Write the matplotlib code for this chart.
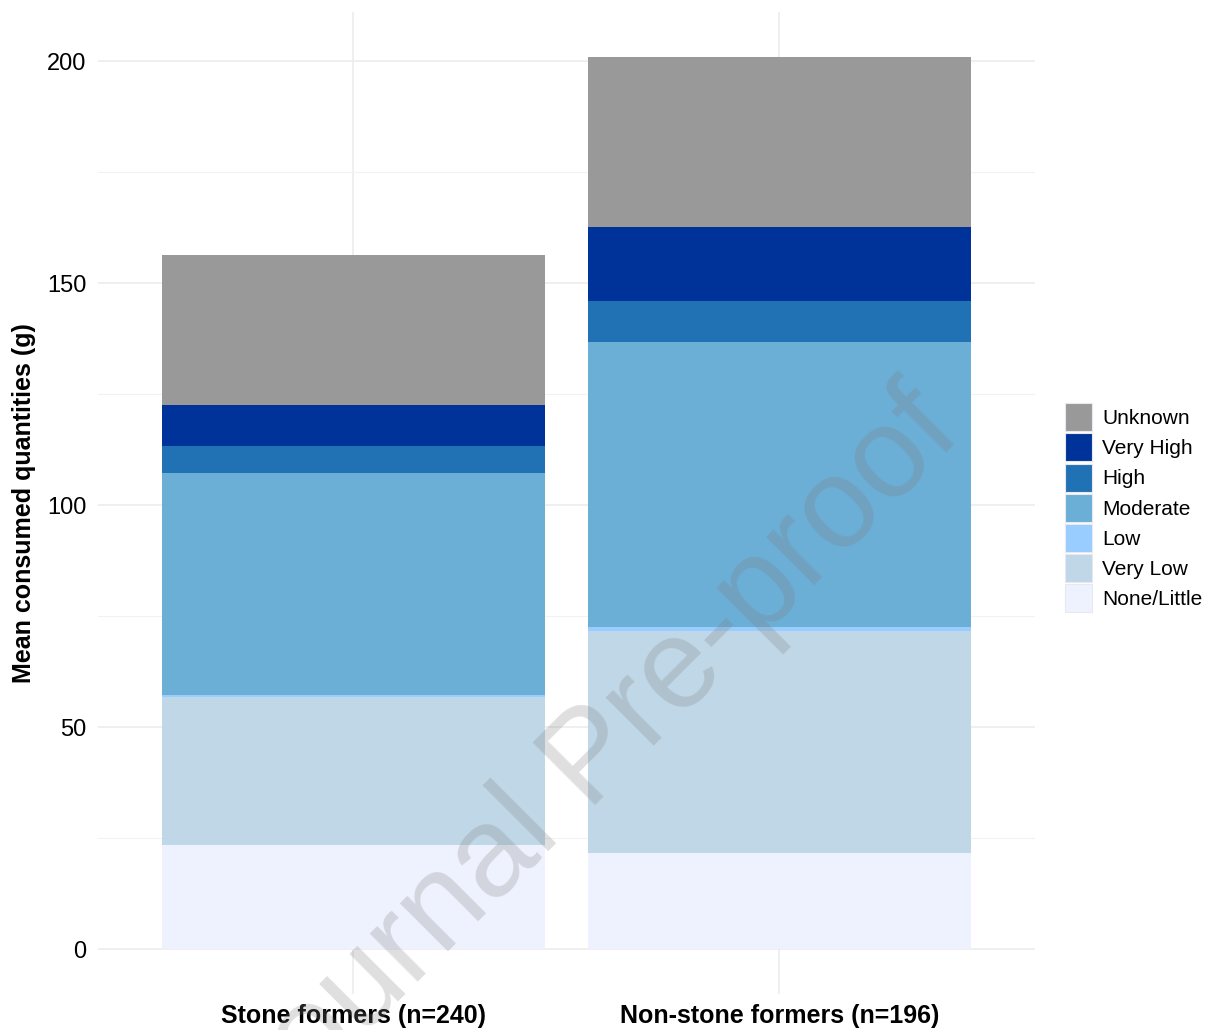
import matplotlib
matplotlib.use("Agg")
import matplotlib.pyplot as plt
from matplotlib.patches import Patch
import numpy as np

plt.rcParams['font.family'] = ['Liberation Sans', 'DejaVu Sans']

groups = ["Stone formers (n=240)", "Non-stone formers (n=196)"]
levels = ["None/Little", "Very Low", "Low", "Moderate", "High", "Very High", "Unknown"]
colors = ["#EEF2FE", "#BFD7E6", "#99CCFF", "#6BAED6", "#2171B5", "#003399", "#999999"]

none_little = [23.5, 21.8]
very_low = [33.4, 49.9]
low = [0.3, 0.9]
moderate = [50.2, 64.3]
high = [5.9, 9.1]
very_high = [9.3, 16.8]
unknown = [33.9, 38.2]

series = [none_little, very_low, low, moderate, high, very_high, unknown]

fig = plt.figure(figsize=(12.08, 10.30), dpi=100)
ax = fig.add_axes([0.0808, 0.035, 0.776, 0.953])

x = np.arange(1, len(groups) + 1)
bottom = np.zeros(len(groups))
for vals, col in zip(series, colors):
    ax.bar(x, vals, width=0.9, bottom=bottom, color=col, edgecolor='none', zorder=2)
    bottom += np.array(vals)

ax.set_xlim(0.4, 2.6)
ymax = bottom.max()
ax.set_ylim(-0.05 * ymax, ymax * 1.05)

ax.set_yticks([0, 50, 100, 150, 200])
ax.set_yticks([25, 75, 125, 175], minor=True)
ax.set_xticks(x)
ax.set_xticklabels(groups, fontsize=18, fontweight='bold')
ax.tick_params(axis='y', labelsize=17, length=0, pad=8, which='both')
ax.tick_params(axis='x', length=0, pad=7)
ax.grid(True, which='major', color='#EBEBEB', linewidth=1.1, zorder=0)
ax.grid(True, which='minor', axis='y', color='#F2F2F2', linewidth=0.8, zorder=0)
for s in ax.spines.values():
    s.set_visible(False)
ax.set_axisbelow(True)

ax.set_ylabel("Mean consumed quantities (g)", fontsize=18, fontweight='bold', labelpad=8)

handles = [Patch(facecolor=c, edgecolor='#E8E8F0', linewidth=0.8, label=l)
           for c, l in zip(colors[::-1], levels[::-1])]
fig.legend(handles=handles, loc='center left', bbox_to_anchor=(1065 / 1208, 0.507),
           frameon=False, fontsize=15, handlelength=1.3, handleheight=1.7,
           labelspacing=0.1, handletextpad=0.5, borderpad=0, borderaxespad=0)

fig.text(0.49, 0.261, "Journal Pre-proof", rotation=45, fontsize=92,
         color='#808080', alpha=0.25, ha='center', va='center', zorder=10)

fig.savefig("out.png", dpi=100)
